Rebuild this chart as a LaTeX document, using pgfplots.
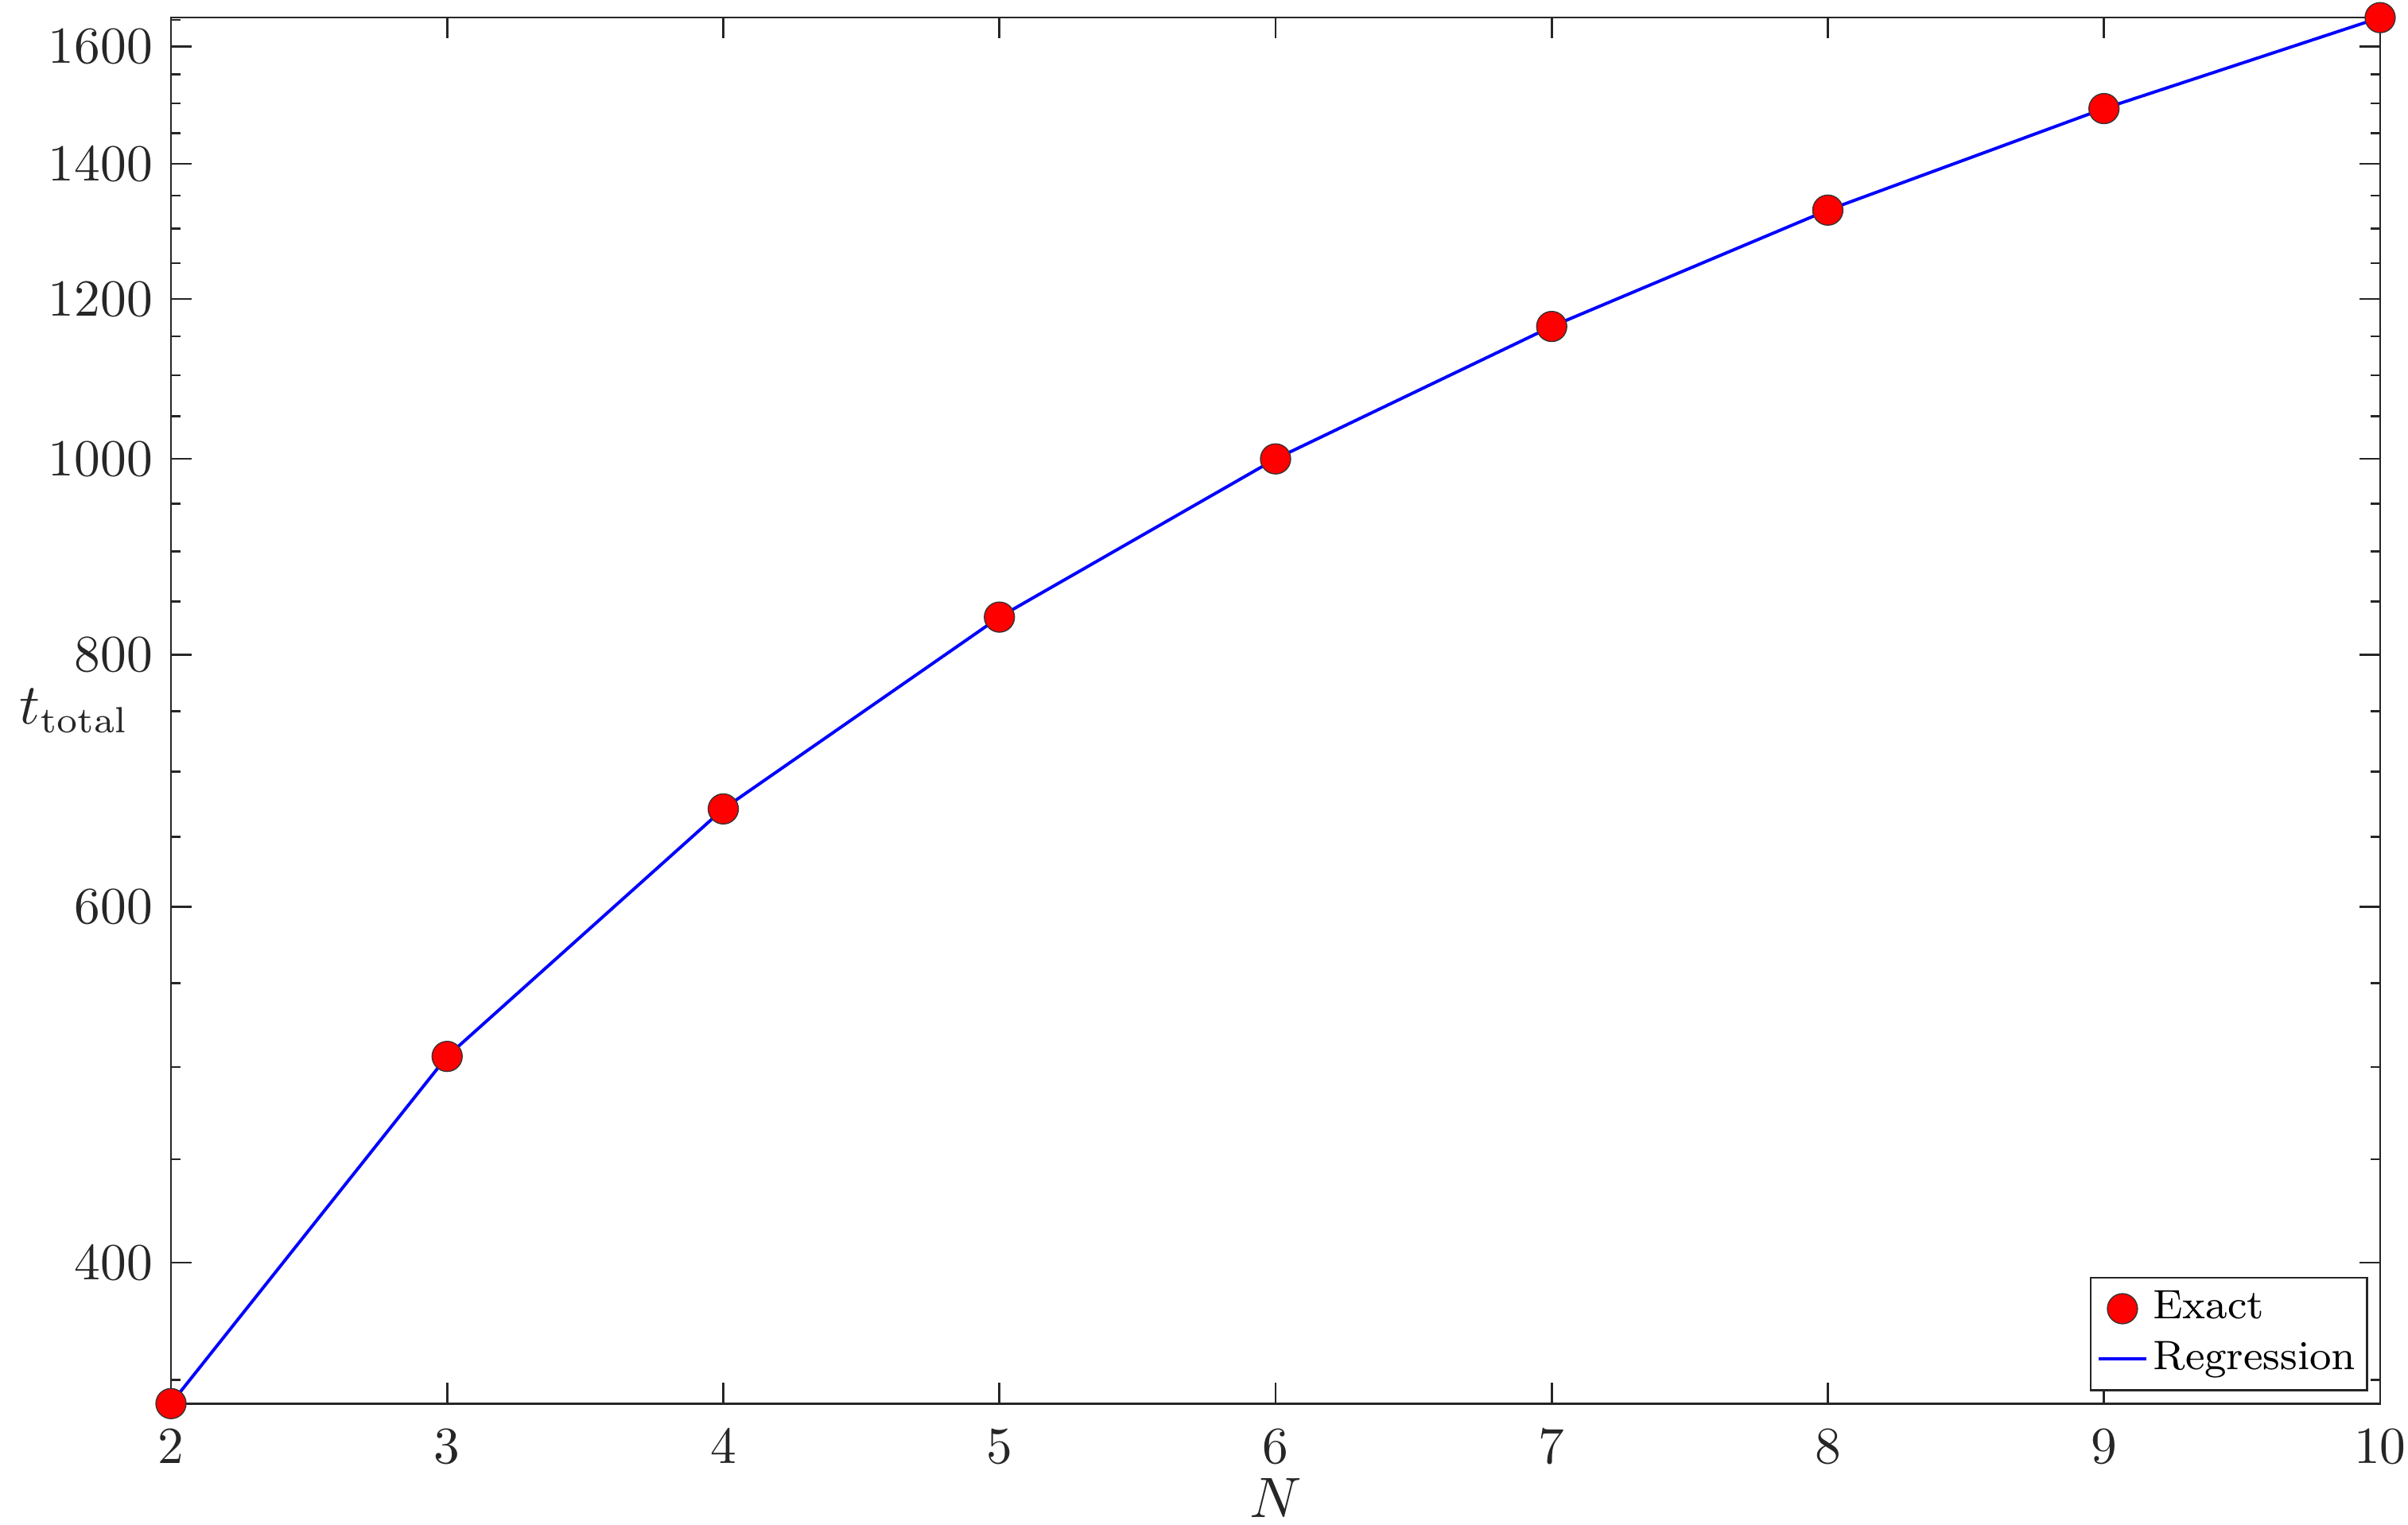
\documentclass[border=0pt]{standalone}
\usepackage{pgfplots}
\pgfplotsset{compat=1.18}
\definecolor{axgray}{RGB}{38,38,38}
\pgfplotsset{
  legmark/.style={legend image code/.code={\draw[mark repeat=1,mark phase=1,##1] plot coordinates {(4.6pt,0pt)};}},
  legline/.style={legend image code/.code={\draw[##1] (0pt,0pt) -- (9.2pt,0pt);}},
}
\begin{document}
\begin{tikzpicture}
\begin{axis}[
  name=main,
  scale only axis,
  width=424.4pt, height=266.3pt,
  xmin=2, xmax=10,
  ymode=log,
  ymin=340.6, ymax=1654,
  xtick={2,3,4,5,6,7,8,9,10},
  ytick={400,600,800,1000,1200,1400,1600},
  yticklabels={400,600,800,1000,1200,1400,1600},
  minor ytick={350,450,500,550,650,700,750,850,900,950,1050,1100,1150,1250,1300,1350,1450,1500,1550,1650},
  tick align=inside,
  major tick length=4pt,
  minor tick length=1.9pt,
  tick style={axgray, line width=0.4pt},
  axis line style={axgray, line width=0.4pt},
  tick label style={text=axgray, font=\fontsize{10}{12}\selectfont},
  xticklabel style={yshift=-1.5pt},
  clip=false,
  xlabel={$N$},
  xlabel style={font=\fontsize{10.5}{12.5}\selectfont, text=axgray, yshift=4pt},
  ylabel={$t_{\mathrm{total}}$},
  every axis y label/.style={at={(axis description cs:0,0.5)}, xshift=-32.6pt, anchor=west, font=\fontsize{10.5}{12.5}\selectfont, text=axgray},
  legend style={at={(axis description cs:0.9946,0.009)}, anchor=south east, draw=axgray, line width=0.4pt, font=\fontsize{7.9}{9.7}\selectfont, inner xsep=1.2pt, inner ysep=1.1pt, row sep=0pt, legend cell align=left, nodes={inner xsep=1pt, inner ysep=1.4pt}},
]
\addplot[only marks, mark=*, mark size=2.9pt, mark options={fill=red, draw=black!80, line width=0.2pt}, legmark]
  coordinates {(2,340.6) (3,506) (4,671) (5,835) (6,1000) (7,1163) (8,1328) (9,1491) (10,1654)};
\addlegendentry{Exact}
\addplot[blue, line width=0.6pt, legline]
  coordinates {(2,340.6) (3,506) (4,671) (5,835) (6,1000) (7,1163) (8,1328) (9,1491) (10,1654)};
\addlegendentry{Regression}
\end{axis}
\pgfresetboundingbox
\path ([xshift=-32.85pt,yshift=-23.2pt]main.south west) rectangle ++(462.6pt,292.9pt);
\end{tikzpicture}
\end{document}
